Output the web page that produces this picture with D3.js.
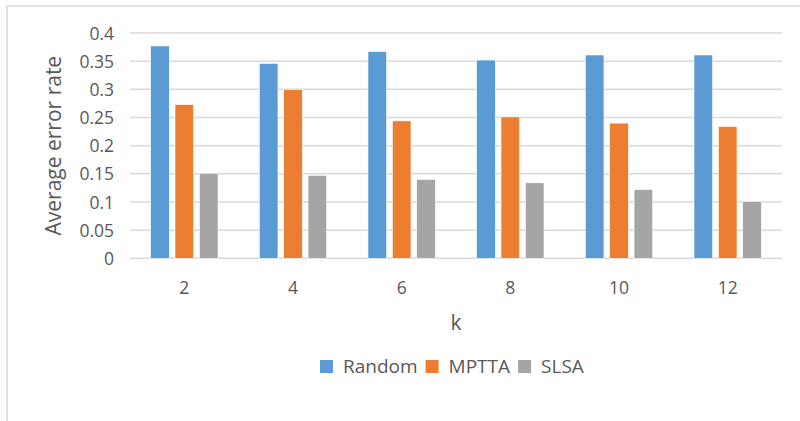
<!DOCTYPE html>
<html>
<head>
<meta charset="utf-8">
<script src="https://cdn.jsdelivr.net/npm/d3@7"></script>
<style>
  html, body { margin: 0; padding: 0; background: #fff; }
  svg { display: block; }
  text { font-family: "Open Sans", sans-serif; fill: #595959; }
</style>
</head>
<body>
<svg id="chart" width="800" height="421"></svg>
<script>
const categories = ["2", "4", "6", "8", "10", "12"];
const seriesNames = ["Random", "MPTTA", "SLSA"];
const randomValues = [0.377, 0.346, 0.367, 0.352, 0.361, 0.361];
const mpttaValues  = [0.273, 0.300, 0.244, 0.251, 0.240, 0.234];
const slsaValues   = [0.151, 0.147, 0.140, 0.134, 0.122, 0.101];
const yTicks = [0, 0.05, 0.1, 0.15, 0.2, 0.25, 0.3, 0.35, 0.4];
const colors = ["#5B9BD5", "#ED7D31", "#A5A5A5"];
const xTitle = "k";
const yTitle = "Average error rate";

const seriesValues = [randomValues, mpttaValues, slsaValues];
const svg = d3.select("#chart");

// frame
svg.append("path")
  .attr("d", "M7,421 L7,6 L800,6")
  .attr("fill", "none").attr("stroke", "#d9d9d9").attr("stroke-width", 1.5);

const plot = { left: 130, right: 782, top: 33, bottom: 258.3 };

const x0 = d3.scaleBand().domain(categories).range([plot.left, plot.right]).padding(0);
const groupW = x0.bandwidth() * 0.62;
const x1 = d3.scaleBand().domain(seriesNames).range([0, groupW]).paddingInner(0.235).paddingOuter(0);
const y = d3.scaleLinear().domain([0, 0.4]).range([plot.bottom, plot.top]);

// y axis labels
const yAxis = d3.axisLeft(y).tickValues(yTicks).tickSize(0).tickPadding(0)
  .tickFormat(d => d3.format("")(+d.toFixed(2)));
const gy = svg.append("g").attr("transform", `translate(${plot.left},0)`).call(yAxis);
gy.select(".domain").remove();
gy.selectAll(".tick line").remove();
gy.selectAll(".tick text")
  .attr("x", -16).attr("dy", "0.35em")
  .style("font-size", "17.5px").style("font-family", "Open Sans").attr("fill", "#595959");

// gridlines
svg.append("g").selectAll("line").data(yTicks).join("line")
  .attr("x1", plot.left).attr("x2", plot.right)
  .attr("y1", d => y(d)).attr("y2", d => y(d))
  .attr("stroke", "#d9d9d9").attr("stroke-width", 1.5);

// bars
const groups = svg.append("g").selectAll("g").data(categories).join("g")
  .attr("transform", d => `translate(${x0(d) + (x0.bandwidth() - groupW) / 2},0)`);
groups.selectAll("rect")
  .data((c, i) => seriesNames.map((s, j) => ({ s, j, v: seriesValues[j][i] })))
  .join("rect")
  .attr("x", d => x1(d.s))
  .attr("width", x1.bandwidth())
  .attr("y", d => y(d.v))
  .attr("height", d => y(0) - y(d.v))
  .attr("fill", d => colors[d.j])
  .attr("stroke", "#fff").attr("stroke-width", 0.6);

// x axis labels
const xAxis = d3.axisBottom(x0).tickSize(0).tickPadding(0);
const gx = svg.append("g").attr("transform", `translate(0,${plot.bottom})`).call(xAxis);
gx.select(".domain").remove();
gx.selectAll(".tick text")
  .attr("y", 36).attr("dy", 0)
  .style("font-size", "17.5px").style("font-family", "Open Sans").attr("fill", "#595959");

// axis titles
svg.append("text")
  .attr("x", (plot.left + plot.right) / 2).attr("y", 330)
  .attr("text-anchor", "middle").style("font-size", "21px")
  .text(xTitle);
svg.append("text")
  .attr("transform", `translate(61,${(plot.top + plot.bottom) / 2}) rotate(-90)`)
  .attr("text-anchor", "middle").style("font-size", "21px")
  .text(yTitle);

// legend
const legend = svg.append("g");
let lx = 320;
seriesNames.forEach((name, i) => {
  legend.append("rect").attr("x", lx).attr("y", 360).attr("width", 13).attr("height", 13)
    .attr("fill", colors[i]);
  const t = legend.append("text").attr("x", lx + 23).attr("y", 373)
    .style("font-size", "19px").text(name);
  lx += 23 + t.node().getComputedTextLength() + 8;
});
</script>
</body>
</html>
